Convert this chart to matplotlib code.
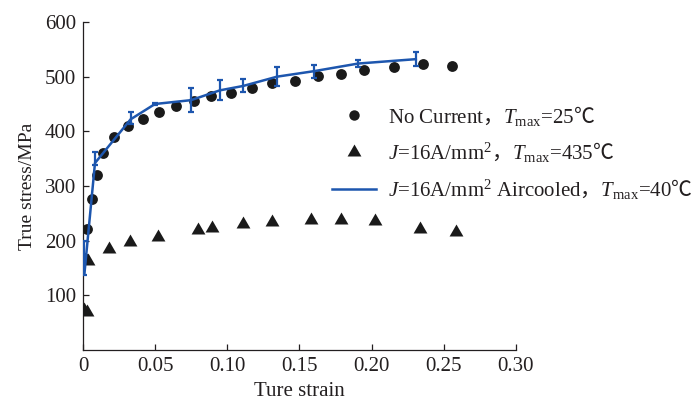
import numpy as np
import matplotlib
matplotlib.use("Agg")
import matplotlib.pyplot as plt
from matplotlib.lines import Line2D

plt.rcParams['font.family'] = ['Liberation Serif', 'Noto Sans CJK SC', 'DejaVu Sans']
plt.rcParams['mathtext.fontset'] = 'custom'
plt.rcParams['mathtext.rm'] = 'Liberation Serif'
plt.rcParams['mathtext.it'] = 'Liberation Serif:italic'
plt.rcParams['mathtext.sf'] = 'Noto Sans CJK SC'

# No current, Tmax = 25C
strain_nc = [0.001, 0.0026, 0.006, 0.0099, 0.0141, 0.0215, 0.031, 0.0413, 0.0526, 0.0644,
             0.0769, 0.0889, 0.1025, 0.1168, 0.131, 0.1468, 0.163, 0.179, 0.195, 0.2154,
             0.2355, 0.2557]
stress_nc = [168, 222, 276, 321, 360, 390, 409, 423, 436, 447,
             455, 465, 471, 479, 488, 492, 502, 505, 513, 518,
             524, 520]

# J = 16 A/mm2, Tmax = 435C
strain_j = [0.0005, 0.0028, 0.0037, 0.0182, 0.0325, 0.0522, 0.0799, 0.0891, 0.111, 0.131,
            0.158, 0.1787, 0.2022, 0.2334, 0.2585]
stress_j = [73, 69, 163, 185, 198, 207, 220, 224, 230, 234,
            237, 237, 236, 222, 215]

# J = 16 A/mm2 aircooled, Tmax = 40C (mean with error bars)
strain_ac = [0.001, 0.0083, 0.033, 0.0499, 0.0748, 0.0949, 0.111, 0.1345, 0.160, 0.1907, 0.2306]
stress_ac = [140, 342, 422, 450, 457, 475, 483, 500, 510, 524, 532]
err_lo = [2, 4, 8, 1, 22, 17, 11, 18, 12, 7, 13]
err_hi = [60, 20, 13, 2, 22, 18, 12, 17, 12, 6, 14]

blue = '#1d56ae'
ink = '#231f20'

# equilateral triangle marker
tri = [(0, 0.577), (-0.5, -0.289), (0.5, -0.289), (0, 0.577)]

fig = plt.figure(figsize=(6.94, 3.99), dpi=100)
ax = fig.add_axes([0.1196, 0.1228, 0.6239, 0.8221])

ax.plot(strain_nc, stress_nc, 'o', color='#1a1a1a', ms=7.8, mec='none', zorder=3)
ax.plot(strain_j, stress_j, marker=tri, ls='none', color='#1a1a1a', ms=11.5, mec='none', zorder=3)
ax.errorbar(strain_ac, stress_ac, yerr=[err_lo, err_hi], color=blue, lw=1.8,
            elinewidth=1.6, capsize=2.2, capthick=1.6, zorder=4)

ax.set_xlim(0, 0.30)
ax.set_ylim(0, 600)
ax.set_xticks([0, 0.05, 0.10, 0.15, 0.20, 0.25, 0.30])
ax.set_xticklabels(['0', '0.05', '0.10', '0.15', '0.20', '0.25', '0.30'])
ax.set_yticks([100, 200, 300, 400, 500, 600])

for s in ['top', 'right']:
    ax.spines[s].set_visible(False)
for s in ['left', 'bottom']:
    ax.spines[s].set_color(ink)
    ax.spines[s].set_linewidth(0.9)
ax.tick_params(direction='in', length=4.5, width=0.9, colors=ink, labelsize=15, pad=5)

ax.set_xlabel('Ture strain', fontsize=15, color=ink, labelpad=4)
ax.set_ylabel('True stress/MPa', fontsize=14, color=ink, labelpad=6)

comma = r'$\mathsf{，}$'
degc = r'$\mathsf{℃}$'
handles = [
    Line2D([], [], marker='o', ls='none', color='#1a1a1a', ms=7.5, mec='none'),
    Line2D([], [], marker=tri, ls='none', color='#1a1a1a', ms=11.5, mec='none'),
    Line2D([], [], color=blue, lw=1.8),
]
labels = [
    'No Current' + comma + r'$\mathit{T}_{\mathrm{max}}$=25' + degc,
    r'$\mathit{J}$=16A/mm$^{2}$' + comma + r'$\mathit{T}_{\mathrm{max}}$=435' + degc,
    r'$\mathit{J}$=16A/mm$^{2}$ Aircooled' + comma + r'$\mathit{T}_{\mathrm{max}}$=40' + degc,
]
leg = fig.legend(handles, labels, loc='center left', bbox_to_anchor=(0.4636, 0.618),
                 frameon=False, fontsize=15, handlelength=2.1, handletextpad=0.57,
                 labelspacing=0.62, borderpad=0, labelcolor=ink)

fig.savefig('out.png', dpi=100)
